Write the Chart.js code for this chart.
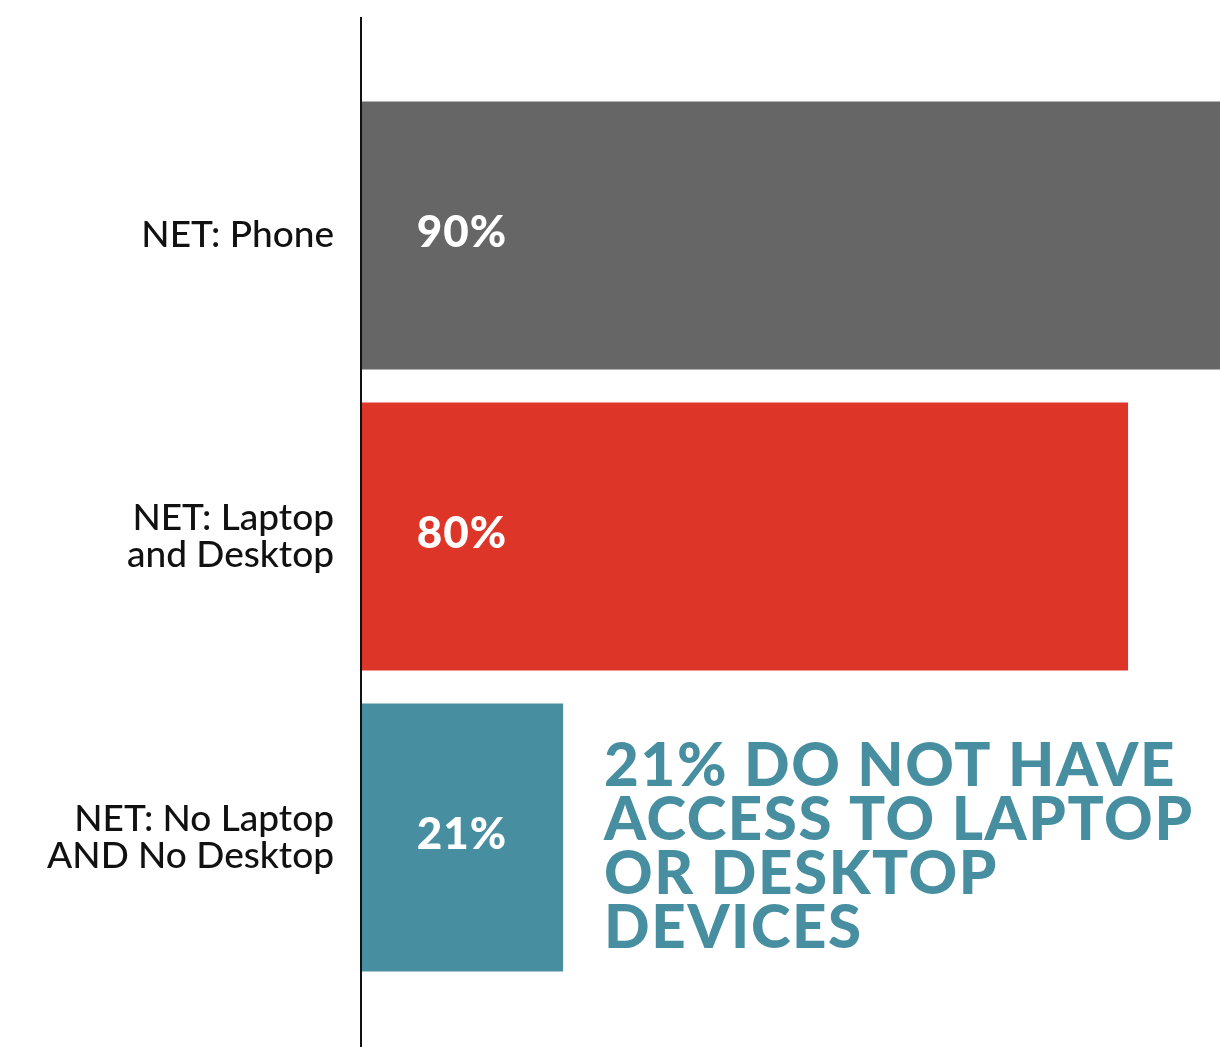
<!DOCTYPE html>
<html>
<head>
<meta charset="utf-8">
<script src="https://cdn.jsdelivr.net/npm/chart.js@4.4.1/dist/chart.umd.min.js"></script>
<style>
    html, body { margin: 0; padding: 0; background: #ffffff; }
    #wrap { width: 1220px; height: 1047px; position: relative; }
</style>
</head>
<body>
<div id="wrap"><canvas id="myChart"></canvas></div>
<script>
// Kategorien und Werte
const categories = [
    ['NET: Phone'],
    ['NET: Laptop', 'and Desktop'],
    ['NET: No Laptop', 'AND No Desktop']
];
const values = [90, 80, 21];
const valueLabels = ['90%', '80%', '21%'];
const barColors = ['#666666', '#DE3529', '#478FA0'];
const calloutLines = ['21% DO NOT HAVE', 'ACCESS TO LAPTOP', 'OR DESKTOP', 'DEVICES'];

// Senkrechte Achsenlinie, Werte in den Balken und Hinweistext
const overlayPlugin = {
    id: 'overlay',
    afterDatasetsDraw(chart) {
        const ctx = chart.ctx;
        const x0 = chart.scales.x.getPixelForValue(0);
        const meta = chart.getDatasetMeta(0);

        ctx.save();
        ctx.strokeStyle = '#111111';
        ctx.lineWidth = 2;
        ctx.beginPath();
        ctx.moveTo(x0 - 1, 17);
        ctx.lineTo(x0 - 1, chart.height);
        ctx.stroke();

        ctx.fillStyle = '#ffffff';
        ctx.font = '900 44px Lato';
        ctx.letterSpacing = '1px';
        ctx.textAlign = 'center';
        ctx.textBaseline = 'middle';
        meta.data.forEach((bar, i) => {
            ctx.fillText(valueLabels[i], x0 + 100, bar.y - 3);
        });

        // Hinweis rechts neben dem letzten Balken
        const last = meta.data[meta.data.length - 1];
        const top = last.y - last.height / 2;
        ctx.fillStyle = '#478FA0';
        ctx.font = '900 60px Lato';
        ctx.letterSpacing = '1.6px';
        ctx.textAlign = 'left';
        ctx.textBaseline = 'alphabetic';
        calloutLines.forEach((line, i) => {
            ctx.fillText(line, last.x + 41, top + 82 + i * 54);
        });
        ctx.restore();
    }
};

const ctx = document.getElementById('myChart').getContext('2d');
new Chart(ctx, {
    type: 'bar',
    data: {
        labels: categories,
        datasets: [{
            data: values,
            backgroundColor: barColors,
            borderWidth: 0,
            categoryPercentage: 1,
            barPercentage: 0.89
        }]
    },
    options: {
        indexAxis: 'y',
        responsive: true,
        maintainAspectRatio: false,
        animation: false,
        layout: { padding: { top: 85, bottom: 59, left: 0, right: 0 } },
        plugins: {
            legend: { display: false },
            tooltip: { enabled: false }
        },
        scales: {
            x: {
                display: false,
                min: 0,
                max: 89.6
            },
            y: {
                grid: { display: false, drawTicks: false },
                border: { display: false },
                afterFit(scale) { scale.width = 362; },
                ticks: {
                    padding: 28,
                    color: '#111111',
                    font: { family: 'Lato', size: 37, weight: '500', lineHeight: 1.0 }
                }
            }
        }
    },
    plugins: [overlayPlugin]
});
</script>
</body>
</html>
